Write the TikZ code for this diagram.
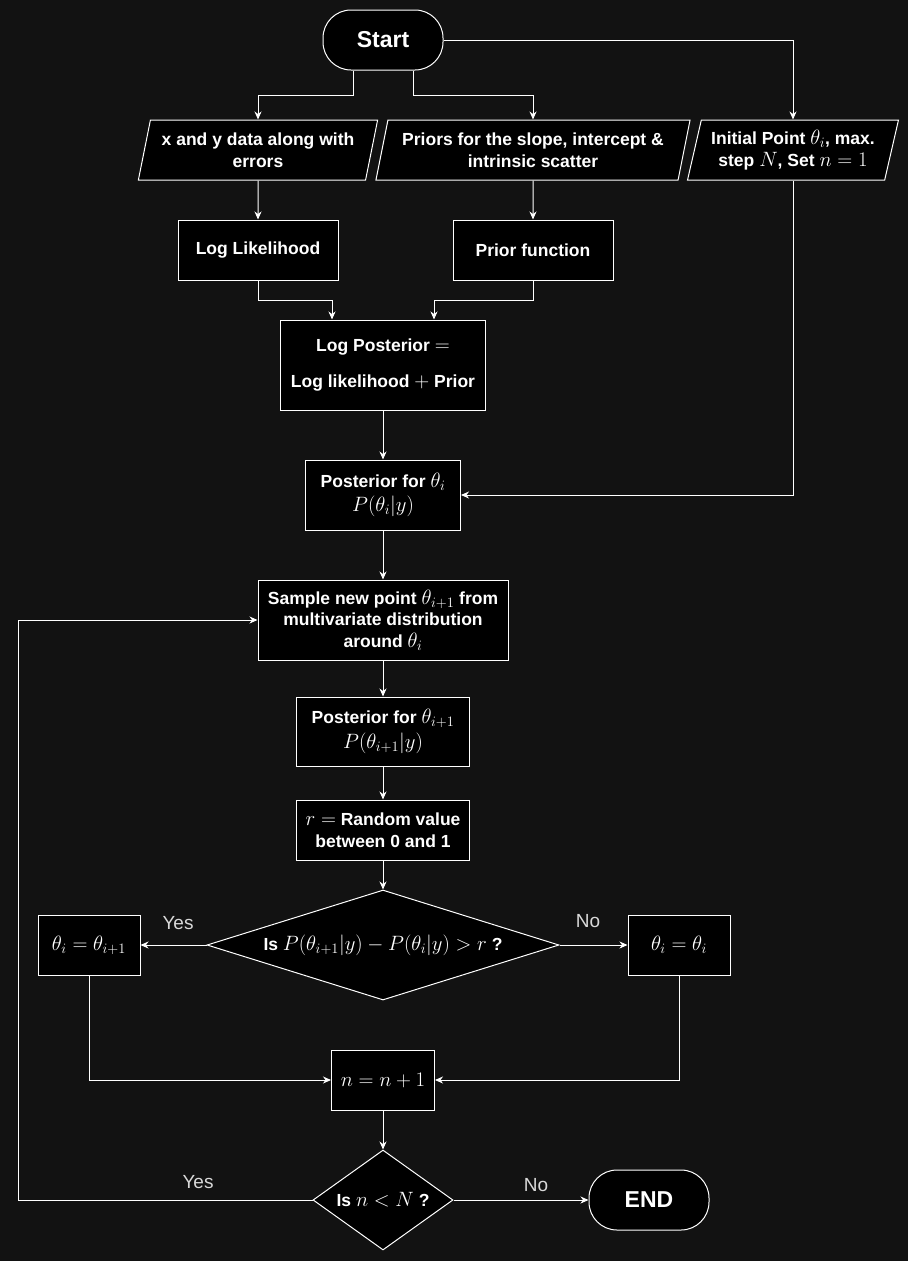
\documentclass[tikz,border=0pt]{standalone}
\usepackage[no-math]{fontspec}
\setmainfont{Liberation Sans}
\usetikzlibrary{shapes.geometric,arrows.meta}
\definecolor{bgdark}{HTML}{121212}
\DeclareMathSizes{17.5}{20.74}{14.4}{12}
\begin{document}
\begin{tikzpicture}[x=1pt,y=-1pt,
  every node/.style={text=white},
  txt/.style={font=\bfseries\fontsize{17.5}{21.5}\selectfont,align=center,inner sep=1pt},
  box/.style n args={2}{txt,rectangle,draw=white,fill=black,line width=1pt,minimum width=#1,minimum height=#2},
  term/.style={rectangle,rounded corners=28pt,draw=white,fill=black,line width=1pt,minimum width=120pt,minimum height=60pt,font=\bfseries\fontsize{23}{27}\selectfont},
  io/.style={txt,trapezium,trapezium left angle=73.3,trapezium right angle=106.7,trapezium stretches=true,draw=white,fill=black,line width=1pt,minimum width=#1,minimum height=60pt},
  test/.style n args={3}{txt,diamond,aspect=#3,draw=white,fill=black,line width=1pt,inner sep=0pt,minimum width=#1,minimum height=#2},
  answer/.style={font=\fontsize{19}{22}\selectfont,text=white!85!black},
  flow/.style={draw=white,line width=1pt,-{Stealth[length=8pt,width=7pt,inset=2.5pt]}}]
\fill[bgdark] (0,0) rectangle (908,1261);
\useasboundingbox (0,0) rectangle (908,1261);

   \node[term] at (383,40) (start) {Start};
   \node[io=240pt] at (258,150) (data) {x and y data along with\\errors};
   \node[io=315pt] at (533,150) (priors) {Priors for the slope, intercept \&\\intrinsic scatter};
   \node[io=211pt] at (793,150) (init) {Initial Point $\theta_i$, max.\\step $N$, Set $n=1$};

   \node[box={160pt}{60pt}] at (258,250) (loglik) {Log Likelihood};
   \node[box={160pt}{60pt}] at (533,250) (priorf) {Prior function};
   \node[box={205pt}{90pt}] at (383,365) (logpost) {Log Posterior $=$\\[14pt]Log likelihood $+$ Prior};
   \node[box={155pt}{70pt}] at (383,495) (post) {Posterior for $\theta_i$\\[3pt]$P(\theta_i|y)$};
   \node[box={250pt}{80pt}] at (383,620) (sample) {Sample new point $\theta_{i+1}$ from\\multivariate distribution\\around $\theta_i$};
   \node[box={173pt}{69pt}] at (383,731.5) (postnew) {Posterior for $\theta_{i+1}$\\[3pt]$P(\theta_{i+1}|y)$};
   \node[box={173pt}{60pt}] at (383,830) (rand) {$r=$ Random value\\between 0 and 1};

   \node[test={352pt}{110pt}{3.2}] at (383,945) (accept) {Is $P(\theta_{i+1}|y)-P(\theta_i|y)>r$ ?};
    \node[box={102pt}{60pt}] at (89,945) (take) {$\theta_i=\theta_{i+1}$};
    \node[box={102pt}{60pt}] at (679,945) (keep) {$\theta_i=\theta_i$};
    \node[answer] at (178,923) (yesA) {Yes};
    \node[answer] at (588,921) (noA) {No};

   \node[box={103pt}{60pt}] at (383,1080) (incr) {$n=n+1$};
   \node[test={140pt}{100pt}{1.4}] at (383,1200) (more) {Is $n<N$ ?};
   \node[term] at (649,1200) (stop) {END};
    \node[answer] at (198,1182) (yesB) {Yes};
    \node[answer] at (536,1185) (noB) {No};
   \coordinate (back) at (18,1200);

    \draw[flow] ([xshift=-30pt]start.south) -- ++(0,25) -| (data.north);
    \draw[flow] ([xshift=30pt]start.south) -- ++(0,25) -| (priors.north);
    \draw[flow] (start.east) -| (init.north);
    \draw[flow] (data.south) -- (loglik.north);
    \draw[flow] (priors.south) -- (priorf.north);
    \draw[flow] (loglik.south) -- ++(0,20) -| ([xshift=-51pt]logpost.north);
    \draw[flow] (priorf.south) -- ++(0,20) -| ([xshift=51pt]logpost.north);
    \draw[flow] (logpost) -- (post);
    \draw[flow] (init.south) |- (post.east);
    \draw[flow] (post) -- (sample);
    \draw[flow] (sample) -- (postnew);
    \draw[flow] (postnew) -- (rand);
    \draw[flow] (rand) -- (accept);
    \draw[flow] (accept.west) -- (take.east);
    \draw[flow] (accept.east) -- (keep.west);
    \draw[flow] (take.south) |- (incr.west);
    \draw[flow] (keep.south) |- (incr.east);
    \draw[flow] (incr) -- (more);
    \draw[flow] (more.east) -- (stop.west);
    \draw[flow] (more.west) -- (back) |- (sample.west);

\end{tikzpicture}
\end{document}
